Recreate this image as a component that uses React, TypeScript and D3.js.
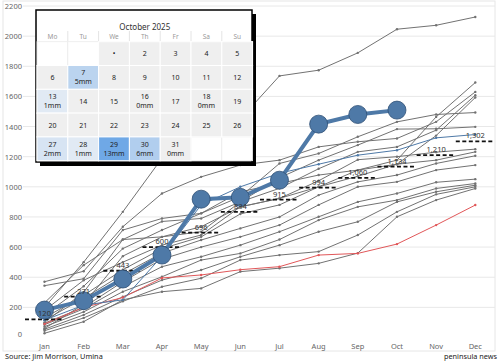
import React from 'react';
import * as d3 from 'd3';

const months = ['Jan', 'Feb', 'Mar', 'Apr', 'May', 'Jun', 'Jul', 'Aug', 'Sep', 'Oct', 'Nov', 'Dec'];
const yTicks = [0, 200, 400, 600, 800, 1000, 1200, 1400, 1600, 1800, 2000, 2200];

// cumulative rainfall, current year (thick blue)
const current2025 = [182, 244, 388, 547, 918, 930, 1044, 1416, 1480, 1509];
// long-term average (dashed)
const averages = [120, 271, 443, 600, 696, 834, 915, 994, 1060, 1134, 1210, 1302];
// highlighted previous years
const redYear = [90, 200, 265, 395, 415, 450, 470, 547, 558, 620, 746, 879];
const blueYear = [115, 215, 250, 540, 880, 1000, 1090, 1150, 1210, 1243, 1325, 1347];
// other years (grey)
const grey1 = [200, 500, 834, 1190, 1330, 1450, 1736, 1774, 1889, 2046, 2072, 2127];
const grey2 = [150, 340, 590, 713, 824, 967, 1022, 1078, 1111, 1177, 1464, 1692];
const grey3 = [370, 440, 735, 956, 1066, 1144, 1177, 1265, 1299, 1321, 1431, 1630];
const grey4 = [100, 300, 650, 770, 790, 900, 990, 1120, 1232, 1265, 1376, 1608];
const grey5 = [60, 220, 540, 668, 735, 867, 923, 1000, 1070, 1150, 1340, 1593];
const grey6 = [344, 390, 713, 790, 824, 934, 1155, 1221, 1332, 1431, 1480, 1493];
const grey7 = [230, 480, 650, 668, 702, 900, 1060, 1177, 1277, 1383, 1385, 1398];
const grey8 = [180, 380, 500, 613, 680, 867, 923, 1040, 1180, 1200, 1230, 1250];
const grey9 = [130, 280, 450, 590, 668, 820, 880, 1000, 1111, 1150, 1177, 1232];
const grey10 = [115, 260, 420, 560, 647, 724, 800, 945, 1033, 1078, 1155, 1206];
const grey11 = [95, 200, 370, 520, 600, 668, 746, 880, 1000, 1033, 1111, 1144];
const grey12 = [85, 190, 337, 470, 536, 613, 702, 801, 900, 956, 1030, 1051];
const grey13 = [72, 170, 304, 403, 514, 558, 650, 779, 867, 912, 989, 1022];
const grey14 = [55, 150, 270, 381, 448, 536, 613, 702, 768, 900, 967, 1011];
const grey15 = [45, 130, 240, 337, 393, 514, 547, 570, 680, 834, 950, 1000];
const grey16 = [28, 105, 250, 304, 326, 437, 460, 492, 560, 801, 912, 989];
const greyYears = [grey1, grey2, grey3, grey4, grey5, grey6, grey7, grey8, grey9, grey10, grey11, grey12, grey13, grey14, grey15, grey16];

// calendar inset
const calendarTitle = 'October 2025';
const weekdays = ['Mo', 'Tu', 'We', 'Th', 'Fr', 'Sa', 'Su'];
const daysInMonth = 31;
const firstWeekday = 2; // Wednesday
const rainDays = [7, 13, 16, 18, 27, 28, 29, 30, 31];
const rainMm = [5, 1, 0, 0, 2, 1, 13, 6, 0];

const FONT = "'Noto Sans', 'DejaVu Sans', sans-serif";

export default function App() {
  const x = d3.scalePoint<string>().domain(months).range([44.5, 475.3]);
  const y = d3.scaleLinear().domain([0, 2200]).range([337.5, 6]);
  const line = d3
    .line<number>()
    .x((_, i) => x(months[i]) as number)
    .y((d) => y(d));
  const fmt = d3.format(',');

  const rainColor = d3.scaleLinear<string>().domain([0, 13]).range(['#eaeff5', '#6fa8e6']);

  // calendar geometry
  const calX = 37;
  const colW = 30.8;
  const rowTop = 41.7;
  const rowH = 23.8;
  const cells: { day: number; col: number; row: number }[] = [];
  for (let d = 1; d <= daysInMonth; d++) {
    const idx = firstWeekday + d - 1;
    cells.push({ day: d, col: idx % 7, row: Math.floor(idx / 7) });
  }
  const nRows = Math.ceil((firstWeekday + daysInMonth) / 7);

  const renderSeries = (data: number[], color: string, key: string, width = 1) => (
    <g key={key}>
      <path d={line(data) || ''} fill="none" stroke={color} strokeWidth={width} />
      {data.map((v, i) => (
        <circle key={i} cx={x(months[i])} cy={y(v)} r={1.2} fill={color} />
      ))}
    </g>
  );

  return (
    <svg
      width={500}
      height={362}
      style={{ position: 'absolute', left: 0, top: 0, background: '#fff' }}
      fontFamily={FONT}
    >
      <rect x={3} y={1} width={492} height={350} fill="#fff" stroke="#e6e6e6" />
      {/* grid */}
      {yTicks.map((t) =>
        t === 0 ? null : (
          <line key={t} x1={23} x2={495} y1={y(t)} y2={y(t)} stroke="#e8e8e8" strokeWidth={1} />
        )
      )}
      {yTicks.map((t) => (
        <text
          key={'l' + t}
          x={22}
          y={Math.min(y(t), 334)}
          textAnchor="end"
          dominantBaseline="central"
          fontSize={7.5}
          fill="#666"
        >
          {t}
        </text>
      ))}
      {months.map((m) => (
        <text key={m} x={x(m)} y={346} textAnchor="middle" dominantBaseline="central" fontSize={7.5} fill="#666">
          {m}
        </text>
      ))}

      {/* previous years */}
      {greyYears.map((g, i) => renderSeries(g, '#727272', 'g' + i))}
      {renderSeries(redYear, '#e15759', 'red')}
      {renderSeries(blueYear, '#4e79a7', 'blue')}

      {/* averages */}
      {averages.map((v, i) => (
        <line
          key={'a' + i}
          x1={(x(months[i]) as number) - 19.5}
          x2={(x(months[i]) as number) + 19.5}
          y1={y(v)}
          y2={y(v)}
          stroke="#111"
          strokeWidth={1.8}
          strokeDasharray="4,2.5"
        />
      ))}

      {/* current year */}
      <path d={line(current2025) || ''} fill="none" stroke="#4e79a7" strokeWidth={4} />
      {current2025.map((v, i) => (
        <circle key={'c' + i} cx={x(months[i])} cy={y(v)} r={9} fill="#4e79a7" stroke="#2f4f75" strokeWidth={0.8} />
      ))}

      {averages.map((v, i) => (
        <text
          key={'al' + i}
          x={x(months[i])}
          y={y(v) - 3}
          textAnchor="middle"
          fontSize={7.5}
          fill="#333"
        >
          {fmt(v)}
        </text>
      ))}

      {/* calendar inset */}
      <rect x={40} y={14} width={216} height={152} fill="#000" />
      <rect x={36} y={10} width={216} height={152} fill="#fff" stroke="#000" strokeWidth={1.5} />
      <text x={calX + (colW * 7) / 2} y={26} textAnchor="middle" dominantBaseline="central" fontSize={8} fill="#333">
        {calendarTitle}
      </text>
      {weekdays.map((w, i) => (
        <g key={w}>
          <text
            x={calX + colW * i + colW / 2}
            y={36.5}
            textAnchor="middle"
            dominantBaseline="central"
            fontSize={6.5}
            fill="#999"
          >
            {w}
          </text>
          {i > 0 && <line x1={calX + colW * i} x2={calX + colW * i} y1={31} y2={41.7} stroke="#e4e4e4" />}
        </g>
      ))}
      {Array.from({ length: nRows * 7 }).map((_, k) => (
        <rect
          key={'bg' + k}
          x={calX + colW * (k % 7)}
          y={rowTop + rowH * Math.floor(k / 7)}
          width={colW}
          height={rowH}
          fill="#fff"
          stroke="#ececec"
          strokeWidth={0.8}
        />
      ))}
      {cells.map((c) => {
        const ri = rainDays.indexOf(c.day);
        const mm = ri >= 0 ? rainMm[ri] : null;
        const fill = mm !== null && mm > 0 ? rainColor(mm) : '#efefef';
        const cx = calX + colW * c.col + colW / 2;
        const cy = rowTop + rowH * c.row + rowH / 2;
        return (
          <g key={'d' + c.day}>
            <rect
              x={calX + colW * c.col}
              y={rowTop + rowH * c.row}
              width={colW}
              height={rowH}
              fill={fill}
              stroke="#fff"
              strokeWidth={1}
            />
            {mm === null ? (
              <text x={cx} y={cy} textAnchor="middle" dominantBaseline="central" fontSize={7} fill="#222">
                {c.day === 1 ? '•' : c.day}
              </text>
            ) : (
              <>
                <text x={cx} y={cy - 4.5} textAnchor="middle" dominantBaseline="central" fontSize={7} fill="#222">
                  {c.day}
                </text>
                <text x={cx} y={cy + 4.5} textAnchor="middle" dominantBaseline="central" fontSize={7} fill="#222">
                  {mm + 'mm'}
                </text>
              </>
            )}
          </g>
        );
      })}

      <text x={5} y={359} fontSize={7.3} fill="#222">
        Source: Jim Morrison, Umina
      </text>
      <text x={497} y={359} textAnchor="end" fontSize={7.3} fill="#222">
        peninsula news
      </text>
    </svg>
  );
}
